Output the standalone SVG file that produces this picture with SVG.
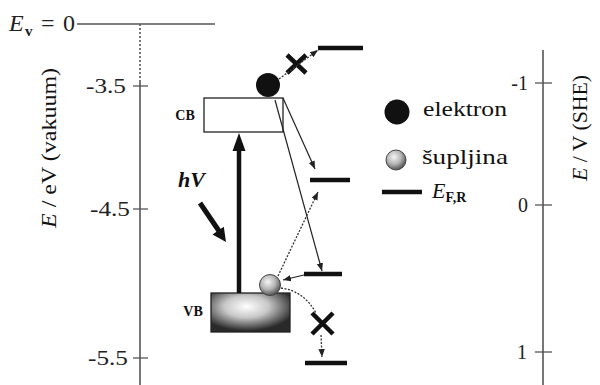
<svg xmlns="http://www.w3.org/2000/svg" width="600" height="385" viewBox="0 0 600 385">
<defs>
<style>
.ax{stroke:#555;stroke-width:1.6;fill:none}
.tick{stroke:#555;stroke-width:1.3}
.num{font-family:"Liberation Serif","Times New Roman",serif;font-size:20px;fill:#222}
.lvl{stroke:#111;stroke-width:4.5}
.thin{stroke:#222;stroke-width:1.2;fill:none}
.dot{stroke:#333;stroke-width:1.3;fill:none;stroke-dasharray:2 1.5}
.x{stroke:#111;stroke-width:4.5;stroke-linecap:butt}
.lbl{font-family:"Liberation Serif","Times New Roman",serif;font-size:22px;fill:#111}
.bold{font-family:"Liberation Serif","Times New Roman",serif;font-weight:bold;fill:#111}
</style>
<marker id="ah" viewBox="0 0 10 10" refX="10" refY="5" markerWidth="8" markerHeight="8" markerUnits="userSpaceOnUse" orient="auto">
<path d="M0,1 L10,5 L0,9 Z" fill="#222"/>
</marker>
<radialGradient id="hole" cx="0.4" cy="0.35" r="0.65">
<stop offset="0" stop-color="#f4f4f4"/>
<stop offset="0.55" stop-color="#b5b5b5"/>
<stop offset="1" stop-color="#555"/>
</radialGradient>
<radialGradient id="vb" cx="0.45" cy="0.35" r="0.62">
<stop offset="0" stop-color="#ffffff"/>
<stop offset="0.45" stop-color="#c8c8c8"/>
<stop offset="1" stop-color="#2a2a2a"/>
</radialGradient>
</defs>

<g id="axes">
<line class="ax" x1="77" y1="24" x2="215" y2="24"/>
<line class="ax" x1="140" y1="24" x2="140" y2="80" stroke-dasharray="2 2"/>
<line class="ax" x1="140" y1="80" x2="140" y2="385"/>
<line class="tick" x1="133" y1="86" x2="148" y2="86"/>
<line class="tick" x1="133" y1="209" x2="148" y2="209"/>
<line class="tick" x1="133" y1="358" x2="148" y2="358"/>
<text class="num" x="86" y="93" textLength="40" lengthAdjust="spacingAndGlyphs">-3.5</text>
<text class="num" x="90" y="216" textLength="40" lengthAdjust="spacingAndGlyphs">-4.5</text>
<text class="num" x="88" y="365" textLength="40" lengthAdjust="spacingAndGlyphs">-5.5</text>
<text x="9" y="31" textLength="66" style="font-family:'Liberation Serif','Times New Roman',serif;font-size:24px;fill:#222"><tspan font-style="italic">E</tspan><tspan font-size="15" font-weight="bold" dy="5">v</tspan><tspan dy="-5"> = 0</tspan></text>
<text class="lbl" transform="translate(56,148) rotate(-90)" text-anchor="middle" textLength="160" lengthAdjust="spacingAndGlyphs"><tspan font-style="italic">E</tspan> / eV (vakuum)</text>

<line class="ax" x1="543" y1="50" x2="543" y2="385"/>
<line class="tick" x1="535" y1="83" x2="552" y2="83"/>
<line class="tick" x1="535" y1="205" x2="552" y2="205"/>
<line class="tick" x1="535" y1="352" x2="552" y2="352"/>
<text class="num" x="528" y="90" text-anchor="end">-1</text>
<text class="num" x="528" y="212" text-anchor="end">0</text>
<text class="num" x="527" y="359" text-anchor="end">1</text>
<text class="lbl" transform="translate(587,128) rotate(-90)" text-anchor="middle" textLength="106" lengthAdjust="spacingAndGlyphs"><tspan font-style="italic">E</tspan> / V (SHE)</text>
</g>

<g id="CB">
<rect x="204" y="98" width="79" height="34" fill="#fff" stroke="#222" stroke-width="1.3"/>
<text class="bold" x="185" y="120" font-size="14" text-anchor="middle">CB</text>
</g>

<g id="VB">
<rect x="211" y="293" width="79" height="39" fill="url(#vb)" stroke="#222" stroke-width="1.3"/>
<text class="bold" x="193" y="316" font-size="14" text-anchor="middle">VB</text>
</g>

<g id="electron">
<circle cx="268" cy="85" r="12" fill="#111"/>
</g>

<g id="hole-node">
<circle cx="270" cy="285" r="10.5" fill="url(#hole)" stroke="#444" stroke-width="1"/>
</g>

<g id="levels">
<line class="lvl" x1="318" y1="48" x2="363" y2="48"/>
<line class="lvl" x1="310" y1="180" x2="350" y2="180"/>
<line class="lvl" x1="304" y1="274" x2="342" y2="274"/>
<line class="lvl" x1="305" y1="363" x2="347" y2="363"/>
</g>

<g id="crosses">
<path class="x" d="M287,55 L306,73 M306,55 L287,73"/>
<path class="x" d="M312,313 L333,334 M333,313 L312,334"/>
</g>

<g id="hv">
<line x1="239" y1="293" x2="239" y2="148" stroke="#111" stroke-width="4.5"/>
<polygon points="239,133 232.5,151 245.5,151" fill="#111"/>
<line x1="200" y1="203" x2="219" y2="231" stroke="#111" stroke-width="5"/>
<polygon points="226,242 212.5,234.5 223.8,226.8" fill="#111"/>
<text x="178" y="187" style="font-family:'Liberation Serif','Times New Roman',serif;font-size:22px;font-weight:bold;font-style:italic;fill:#111">hV</text>
</g>

<g id="connectors">
<line class="dot" x1="279" y1="79" x2="318" y2="50" marker-end="url(#ah)"/>
<line class="thin" x1="283" y1="98" x2="315" y2="169" marker-end="url(#ah)"/>
<line class="thin" x1="275" y1="100" x2="322" y2="271" marker-end="url(#ah)"/>
<line class="dot" x1="278" y1="276" x2="318" y2="192" marker-end="url(#ah)"/>
<line class="thin" x1="304" y1="275" x2="283" y2="280" marker-end="url(#ah)"/>
<path class="dot" d="M281,288 Q304,291 316,313"/>
<line class="dot" x1="321" y1="335" x2="322" y2="357" marker-end="url(#ah)"/>
</g>

<g id="legend">
<circle cx="397" cy="112" r="12.5" fill="#111"/>
<text class="lbl" x="423" y="116" textLength="84" lengthAdjust="spacingAndGlyphs">elektron</text>
<circle cx="396" cy="160" r="10" fill="url(#hole)" stroke="#444" stroke-width="1"/>
<text class="lbl" x="422" y="164" textLength="86" lengthAdjust="spacingAndGlyphs">šupljina</text>
<line class="lvl" x1="382" y1="192" x2="422" y2="192"/>
<text x="432" y="198" style="font-family:'Liberation Serif','Times New Roman',serif;fill:#111"><tspan font-style="italic" font-size="22">E</tspan><tspan font-size="14" font-weight="bold" dy="4">F,R</tspan></text>
</g>
</svg>
